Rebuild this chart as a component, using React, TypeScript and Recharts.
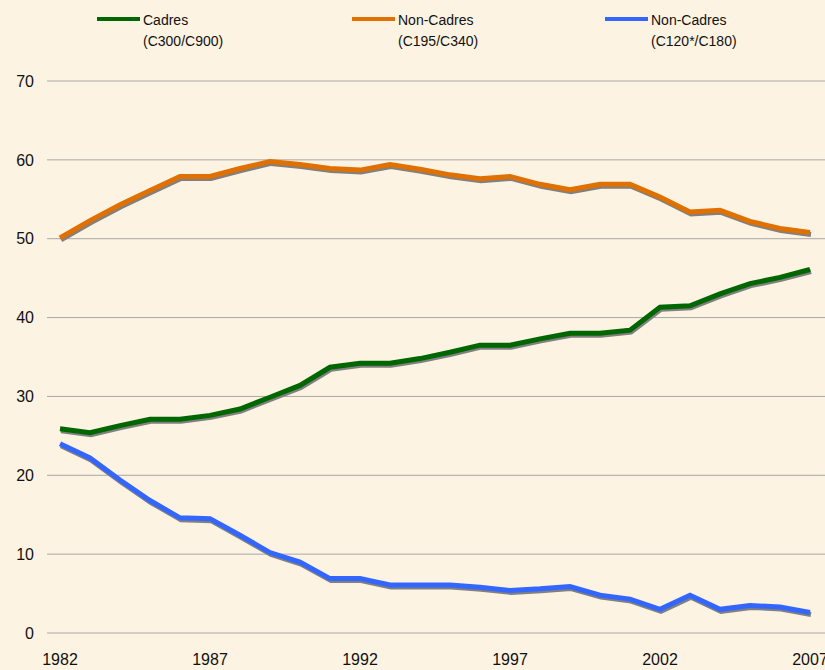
import React from "react";
import { LineChart, Line, XAxis, YAxis, CartesianGrid } from "recharts";

const years = [1982, 1983, 1984, 1985, 1986, 1987, 1988, 1989, 1990, 1991, 1992, 1993, 1994, 1995, 1996, 1997, 1998, 1999, 2000, 2001, 2002, 2003, 2004, 2005, 2006, 2007];

const cadres = [25.9, 25.4, 26.3, 27.1, 27.1, 27.6, 28.4, 29.9, 31.4, 33.7, 34.2, 34.2, 34.8, 35.6, 36.5, 36.5, 37.3, 38.0, 38.0, 38.4, 41.3, 41.5, 43.0, 44.3, 45.1, 46.1];

const nonCadres195 = [50.1, 52.3, 54.3, 56.1, 57.9, 57.9, 58.9, 59.8, 59.4, 58.9, 58.7, 59.4, 58.8, 58.1, 57.6, 57.9, 56.9, 56.2, 56.9, 56.9, 55.3, 53.4, 53.6, 52.2, 51.3, 50.8];

const nonCadres120 = [24.0, 22.2, 19.4, 16.8, 14.6, 14.5, 12.4, 10.2, 9.0, 6.9, 6.9, 6.1, 6.1, 6.1, 5.8, 5.4, 5.6, 5.9, 4.8, 4.3, 3.0, 4.8, 3.0, 3.5, 3.3, 2.6];

const xTicks = [1982, 1987, 1992, 1997, 2002, 2007];
const yTicks = [0, 10, 20, 30, 40, 50, 60, 70];

const series = [
  { key: "cadres", line1: "Cadres", line2: "(C300/C900)", color: "#006600", left: 97 },
  { key: "nc195", line1: "Non-Cadres", line2: "(C195/C340)", color: "#E07000", left: 352 },
  { key: "nc120", line1: "Non-Cadres", line2: "(C120*/C180)", color: "#3366FF", left: 605 },
];

const data = years.map((y, i) => ({
  year: y,
  cadres: cadres[i],
  nc195: nonCadres195[i],
  nc120: nonCadres120[i],
}));

const FONT = "'Liberation Sans', Arial, Helvetica, sans-serif";

export default function App() {
  return (
    <div
      style={{
        position: "absolute",
        left: 0,
        top: 0,
        width: 825,
        height: 670,
        background: "#FDF3E2",
        fontFamily: FONT,
        overflow: "hidden",
      }}
    >
      <style>{`.shadow-line { transform: translate(1px, 2px); }`}</style>
      {series.map((s) => (
        <div key={s.key}>
          <div
            style={{
              position: "absolute",
              left: s.left,
              top: 17,
              width: 43,
              height: 4,
              background: s.color,
            }}
          />
          <div
            style={{
              position: "absolute",
              left: s.left + 46,
              top: 10,
              fontSize: 14,
              lineHeight: "21px",
              color: "#111",
              whiteSpace: "nowrap",
            }}
          >
            <div>{s.line1}</div>
            <div>{s.line2}</div>
          </div>
        </div>
      ))}
      <div style={{ position: "absolute", left: 0, top: 0 }}>
        <LineChart
          width={825}
          height={670}
          data={data}
          margin={{ top: 81, right: 0, bottom: 0, left: 0 }}
        >
          <CartesianGrid vertical={false} stroke="#A8A8A8" strokeWidth={1} />
          <XAxis
            dataKey="year"
            type="number"
            domain={[1982, 2007]}
            ticks={xTicks}
            interval={0}
            padding={{ left: 13, right: 15 }}
            axisLine={false}
            tickLine={false}
            tickSize={0}
            tickMargin={21}
            height={37}
            tick={{ fill: "#111", fontSize: 16, fontFamily: FONT }}
          />
          <YAxis
            domain={[0, 70]}
            ticks={yTicks}
            interval={0}
            axisLine={false}
            tickLine={false}
            tickSize={0}
            tickMargin={13}
            width={47}
            tick={{ fill: "#111", fontSize: 16, fontFamily: FONT }}
          />
          {series.map((s) => (
            <Line
              key={"sh-" + s.key}
              dataKey={s.key}
              className="shadow-line"
              stroke="#808080"
              strokeWidth={5}
              dot={false}
              activeDot={false}
              isAnimationActive={false}
            />
          ))}
          {series.map((s) => (
            <Line
              key={s.key}
              dataKey={s.key}
              stroke={s.color}
              strokeWidth={5}
              dot={false}
              activeDot={false}
              isAnimationActive={false}
            />
          ))}
        </LineChart>
      </div>
    </div>
  );
}
